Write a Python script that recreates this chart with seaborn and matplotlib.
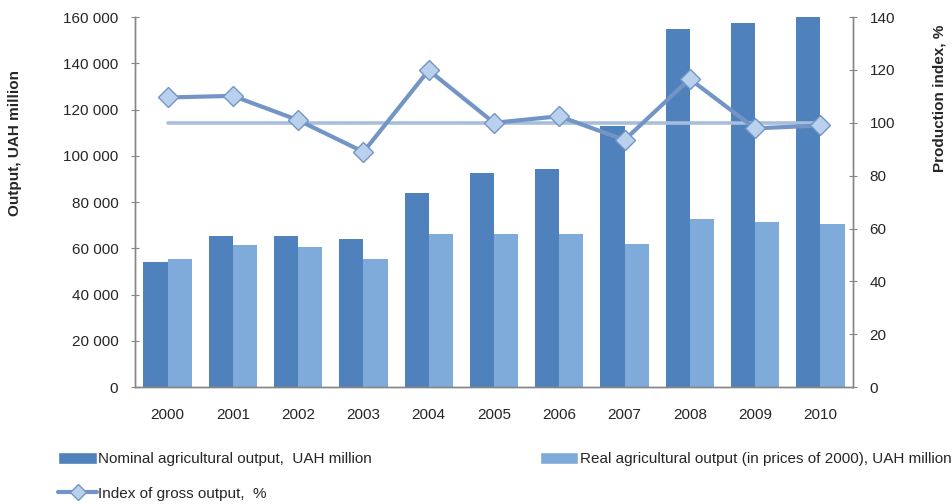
import matplotlib
matplotlib.use("Agg")
import matplotlib.pyplot as plt
import numpy as np
import pandas as pd
import seaborn as sns
from matplotlib.lines import Line2D
from matplotlib.patches import Patch
from matplotlib.ticker import FuncFormatter, MultipleLocator

years = ["2000", "2001", "2002", "2003", "2004", "2005", "2006", "2007", "2008", "2009", "2010"]
nominal = [54000, 65300, 65300, 64000, 83900, 92500, 94300, 112900, 154800, 157400, 160000]
real = [55400, 61400, 60500, 55300, 66200, 66200, 66200, 61800, 72600, 71400, 70500]
index_gross = [109.6, 110.2, 101.0, 89.0, 119.9, 100.0, 102.5, 93.5, 116.6, 97.9, 99.0]
baseline = [100] * len(years)

NOM_LABEL = "Nominal agricultural output,  UAH million"
REAL_LABEL = "Real agricultural output (in prices of 2000), UAH million"
IDX_LABEL = "Index of gross output,  %"

C_NOM = "#4F81BD"
C_REAL = "#7FABDB"
C_IDX = "#7395C5"
C_BASE = "#A7BEDC"
C_MARK = "#B9D1EC"
C_AXIS = "#868686"

sns.set_style("white")
plt.rcParams["font.family"] = ["Liberation Sans Narrow", "Liberation Sans", "DejaVu Sans"]
plt.rcParams["font.size"] = 11

df = pd.DataFrame({"year": years * 2,
                   "value": nominal + real,
                   "series": [NOM_LABEL] * len(years) + [REAL_LABEL] * len(years)})

fig = plt.figure(figsize=(9.52, 5.04), dpi=100)
ax = fig.add_axes([0.1418, 0.232, 0.896 - 0.1418, 0.966 - 0.232])

sns.barplot(data=df, x="year", y="value", hue="series", palette=[C_NOM, C_REAL],
            width=0.74, gap=0, saturation=1, linewidth=0, ax=ax, legend=False)
ax.set_ylim(0, 160000)
ax.set_xlim(-0.5, len(years) - 0.5)
ax.yaxis.set_major_locator(MultipleLocator(20000))
ax.yaxis.set_major_formatter(FuncFormatter(lambda v, p: f"{v:,.0f}".replace(",", " ")))
ax.set_xlabel("")
ax.set_ylabel("Output, UAH million", fontweight="bold", fontsize=11)
ax.yaxis.set_label_coords(-0.157, 0.66)
ax.set_xticks(np.arange(len(years)))
ax.set_xticklabels(years)
ax.set_xticks(np.arange(len(years) + 1) - 0.5, minor=True)
ax.tick_params(axis="x", which="major", length=0, pad=15, labelsize=11)
ax.tick_params(axis="x", which="minor", length=6, direction="out", color=C_AXIS)
ax.tick_params(axis="y", length=6, direction="inout", color=C_AXIS, labelsize=11, left=True, pad=9)

ax2 = ax.twinx()
x_pos = np.arange(len(years))
sns.lineplot(x=x_pos, y=baseline, color=C_BASE, linewidth=2.6, ax=ax2)
sns.lineplot(x=x_pos, y=index_gross, color=C_IDX, linewidth=3, marker="D", markersize=10,
             markerfacecolor=C_MARK, markeredgecolor=C_IDX, markeredgewidth=1, ax=ax2)
ax2.set_ylim(0, 140)
ax2.set_xlim(-0.5, len(years) - 0.5)
ax2.yaxis.set_major_locator(MultipleLocator(20))
ax2.set_ylabel("Production index, %", fontweight="bold", fontsize=11)
ax2.yaxis.set_label_coords(1.111, 0.78)
ax2.tick_params(axis="y", length=6, direction="inout", color=C_AXIS, labelsize=11, right=True, pad=9)

for a in (ax, ax2):
    a.spines["top"].set_visible(False)
    for s in ["left", "right", "bottom"]:
        a.spines[s].set_color(C_AXIS)
        a.spines[s].set_linewidth(1)

handles = [Patch(facecolor=C_NOM, label=NOM_LABEL),
           Line2D([0], [0], color=C_IDX, linewidth=3, marker="D", markersize=8,
                  markerfacecolor=C_MARK, markeredgecolor=C_IDX, label=IDX_LABEL),
           Patch(facecolor=C_REAL, label=REAL_LABEL)]
fig.legend(handles=handles, ncol=2, loc="upper left", bbox_to_anchor=(0.047, 0.131),
           frameon=False, fontsize=11, handlelength=2.5, handletextpad=0.1,
           labelspacing=1.3, columnspacing=11.0, handleheight=0.9)

fig.savefig("out.png", dpi=100)
